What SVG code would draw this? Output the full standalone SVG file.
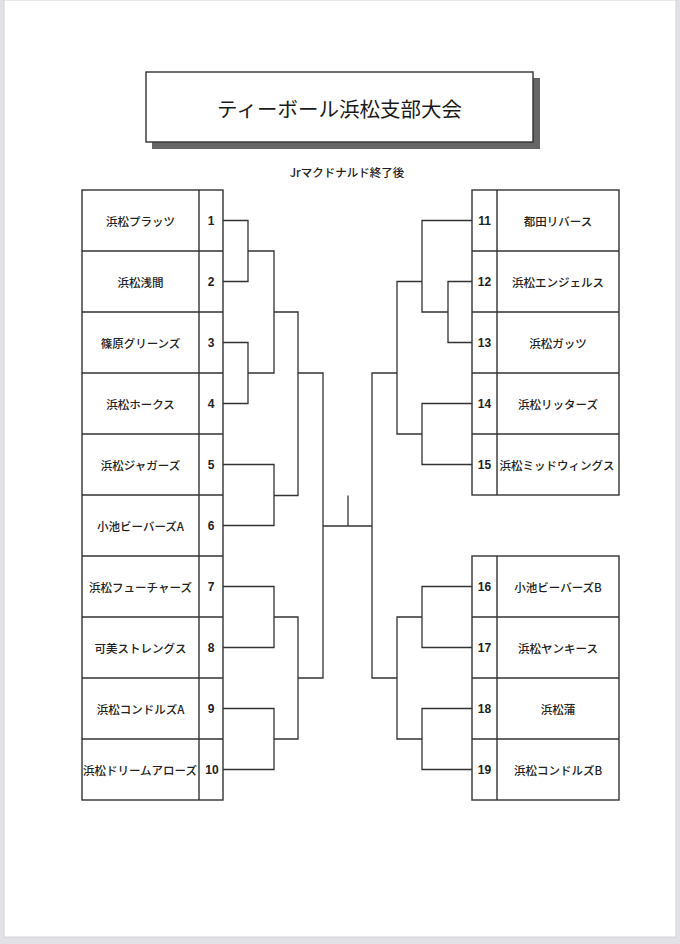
<svg xmlns="http://www.w3.org/2000/svg" width="680" height="944" viewBox="0 0 680 944">
<style>
.tbl{fill:#fff;stroke:#333;stroke-width:1.4}
.ln{fill:none;stroke:#333;stroke-width:1.4}
.name{font-family:"Noto Sans CJK JP","Liberation Sans",sans-serif;font-weight:500;font-size:11.5px;fill:#222;text-anchor:middle;dominant-baseline:central}
.num{font-family:"Liberation Sans",Arial,sans-serif;font-weight:bold;font-size:12px;fill:#222;text-anchor:middle;dominant-baseline:central}
.conn{fill:none;stroke:#333;stroke-width:1.3}
</style>
<rect x="0" y="0" width="680" height="944" fill="#e2e2e6"/>
<rect x="4" y="0" width="672" height="937" fill="#fff" stroke="#d4d4d8" stroke-width="1"/>

<g id="title">
<rect x="152" y="78" width="388" height="71" fill="#666"/>
<rect x="146" y="72" width="387" height="70" fill="#fff" stroke="#333" stroke-width="1.4"/>
<text x="339.5" y="108" font-family="'Noto Sans CJK JP','Liberation Sans',sans-serif" font-weight="normal" font-size="20.5" fill="#1a1a1a" text-anchor="middle" dominant-baseline="central">ティーボール浜松支部大会</text>
</g>
<g id="subtitle">
<text x="347" y="172" font-family="'Noto Sans CJK JP','Liberation Sans',sans-serif" font-weight="500" font-size="11.5" fill="#222" text-anchor="middle" dominant-baseline="central">Jrマクドナルド終了後</text>
</g>

<g id="left-table">
<rect class="tbl" x="82" y="190" width="141" height="610"/>
<path class="ln" d="M199 190V800M82 251H223M82 312H223M82 373H223M82 434H223M82 495H223M82 556H223M82 617H223M82 678H223M82 739H223"/>
</g>
<g id="team1"><text class="name" x="140.5" y="220.5">浜松プラッツ</text><text class="num" x="211" y="220.5">1</text></g>
<g id="team2"><text class="name" x="140.5" y="281.5">浜松浅間</text><text class="num" x="211" y="281.5">2</text></g>
<g id="team3"><text class="name" x="140.5" y="342.5">篠原グリーンズ</text><text class="num" x="211" y="342.5">3</text></g>
<g id="team4"><text class="name" x="140.5" y="403.5">浜松ホークス</text><text class="num" x="211" y="403.5">4</text></g>
<g id="team5"><text class="name" x="140.5" y="464.5">浜松ジャガーズ</text><text class="num" x="211" y="464.5">5</text></g>
<g id="team6"><text class="name" x="140.5" y="525.5">小池ビーバーズA</text><text class="num" x="211" y="525.5">6</text></g>
<g id="team7"><text class="name" x="140.5" y="586.5">浜松フューチャーズ</text><text class="num" x="211" y="586.5">7</text></g>
<g id="team8"><text class="name" x="140.5" y="647.5">可美ストレングス</text><text class="num" x="211" y="647.5">8</text></g>
<g id="team9"><text class="name" x="140.5" y="708.5">浜松コンドルズA</text><text class="num" x="211" y="708.5">9</text></g>
<g id="team10"><text class="name" x="140" y="769.5" font-size="11">浜松ドリームアローズ</text><text class="num" x="212" y="769.5">10</text></g>

<g id="right-table-top">
<rect class="tbl" x="472" y="190" width="147" height="305"/>
<path class="ln" d="M497 190V495M472 251H619M472 312H619M472 373H619M472 434H619"/>
</g>
<g id="right-table-bottom">
<rect class="tbl" x="472" y="556" width="147" height="244"/>
<path class="ln" d="M497 556V800M472 617H619M472 678H619M472 739H619"/>
</g>
<g id="team11"><text class="num" x="484.5" y="220.5">11</text><text class="name" x="558" y="220.5">都田リバース</text></g>
<g id="team12"><text class="num" x="484.5" y="281.5">12</text><text class="name" x="558" y="281.5">浜松エンジェルス</text></g>
<g id="team13"><text class="num" x="484.5" y="342.5">13</text><text class="name" x="558" y="342.5">浜松ガッツ</text></g>
<g id="team14"><text class="num" x="484.5" y="403.5">14</text><text class="name" x="558" y="403.5">浜松リッターズ</text></g>
<g id="team15"><text class="num" x="484.5" y="464.5">15</text><text class="name" x="557" y="464.5" font-size="10.2">浜松ミッドウィングス</text></g>
<g id="team16"><text class="num" x="484.5" y="586.5">16</text><text class="name" x="558" y="586.5">小池ビーバーズB</text></g>
<g id="team17"><text class="num" x="484.5" y="647.5">17</text><text class="name" x="558" y="647.5">浜松ヤンキース</text></g>
<g id="team18"><text class="num" x="484.5" y="708.5">18</text><text class="name" x="558" y="708.5">浜松蒲</text></g>
<g id="team19"><text class="num" x="484.5" y="769.5">19</text><text class="name" x="558" y="769.5">浜松コンドルズB</text></g>

<g id="connectors">
<path class="conn" d="M223 220.5H248V281.5H223"/>
<path class="conn" d="M223 342.5H248V403.5H223"/>
<path class="conn" d="M223 464.5H274V525.5H223"/>
<path class="conn" d="M223 586.5H274V647.5H223"/>
<path class="conn" d="M223 708.5H274V769.5H223"/>
<path class="conn" d="M248 251H274V373H248"/>
<path class="conn" d="M274 312H298V495.5H274"/>
<path class="conn" d="M274 617H298V739H274"/>
<path class="conn" d="M298 373H323V678H298"/>
<path class="conn" d="M323 526H372"/>
<path class="conn" d="M348 495.5V526"/>
<path class="conn" d="M397 373H372V678H397"/>
<path class="conn" d="M422 281.5H397V434H422"/>
<path class="conn" d="M472 220.5H422V312H448"/>
<path class="conn" d="M472 281.5H448V342.5H472"/>
<path class="conn" d="M472 403.5H422V464.5H472"/>
<path class="conn" d="M422 617H397V739H422"/>
<path class="conn" d="M472 586.5H422V647.5H472"/>
<path class="conn" d="M472 708.5H422V769.5H472"/>
</g>
</svg>
